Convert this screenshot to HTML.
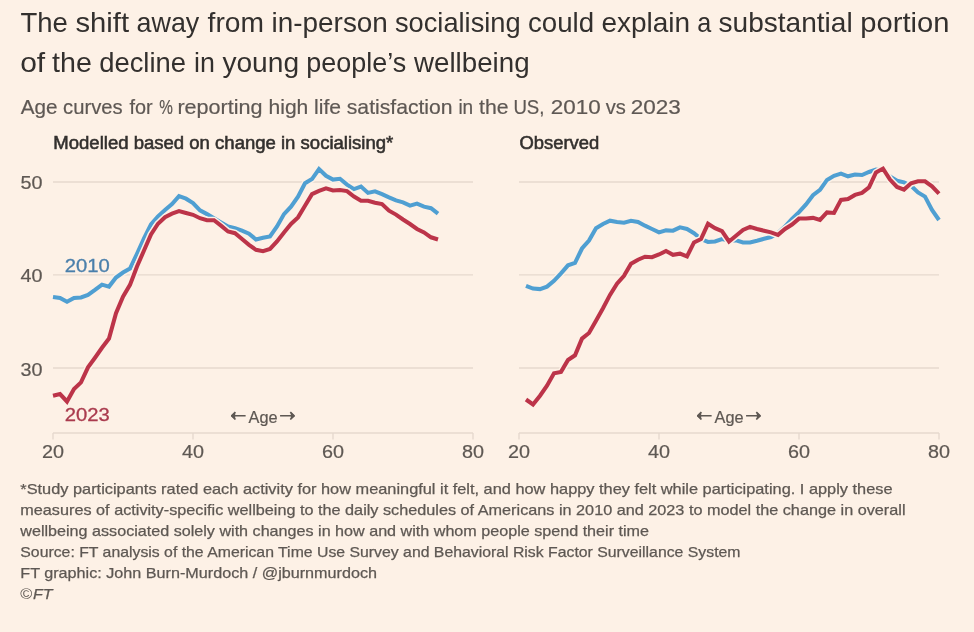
<!DOCTYPE html>
<html lang="en"><head><meta charset="utf-8"><title>FT chart</title>
<style>
html,body{margin:0;padding:0;background:#fdf1e6;}
body{width:974px;height:632px;overflow:hidden;}
svg{display:block;font-family:"Liberation Sans",sans-serif;}
</style></head><body>
<svg width="974" height="632" viewBox="0 0 974 632">
<rect width="974" height="632" fill="#fdf1e6"/>
<text y="32.3" font-size="27.4" fill="#33302e" ><tspan x="20.5" textLength="47.4" lengthAdjust="spacingAndGlyphs">The</tspan> <tspan x="75.5" textLength="53.6" lengthAdjust="spacingAndGlyphs">shift</tspan> <tspan x="136.6" textLength="62.7" lengthAdjust="spacingAndGlyphs">away</tspan> <tspan x="207.6" textLength="56.4" lengthAdjust="spacingAndGlyphs">from</tspan> <tspan x="271.6" textLength="116.3" lengthAdjust="spacingAndGlyphs">in-person</tspan> <tspan x="394.9" textLength="125.8" lengthAdjust="spacingAndGlyphs">socialising</tspan> <tspan x="528.0" textLength="66.1" lengthAdjust="spacingAndGlyphs">could</tspan> <tspan x="601.4" textLength="88.8" lengthAdjust="spacingAndGlyphs">explain</tspan> <tspan x="697.2" textLength="14.0" lengthAdjust="spacingAndGlyphs">a</tspan> <tspan x="718.5" textLength="134.2" lengthAdjust="spacingAndGlyphs">substantial</tspan> <tspan x="860.3" textLength="89.2" lengthAdjust="spacingAndGlyphs">portion</tspan></text>
<text y="71.7" font-size="27.4" fill="#33302e" ><tspan x="20.2" textLength="25.0" lengthAdjust="spacingAndGlyphs">of</tspan> <tspan x="52.0" textLength="39.8" lengthAdjust="spacingAndGlyphs">the</tspan> <tspan x="99.2" textLength="86.8" lengthAdjust="spacingAndGlyphs">decline</tspan> <tspan x="194.0" textLength="20.9" lengthAdjust="spacingAndGlyphs">in</tspan> <tspan x="222.4" textLength="76.7" lengthAdjust="spacingAndGlyphs">young</tspan> <tspan x="306.2" textLength="100.0" lengthAdjust="spacingAndGlyphs">people’s</tspan> <tspan x="414.0" textLength="115.6" lengthAdjust="spacingAndGlyphs">wellbeing</tspan></text>
<text y="113.6" font-size="20.2" fill="#5e5854" stroke="#5e5854" stroke-width="0.2"><tspan x="20.8" textLength="36.8" lengthAdjust="spacingAndGlyphs">Age</tspan> <tspan x="63.1" textLength="59.5" lengthAdjust="spacingAndGlyphs">curves</tspan> <tspan x="129.4" textLength="23.2" lengthAdjust="spacingAndGlyphs">for</tspan> <tspan x="159.3" textLength="13.6" lengthAdjust="spacingAndGlyphs">%</tspan> <tspan x="177.4" textLength="85.2" lengthAdjust="spacingAndGlyphs">reporting</tspan> <tspan x="268.5" textLength="39.8" lengthAdjust="spacingAndGlyphs">high</tspan> <tspan x="314.1" textLength="27.0" lengthAdjust="spacingAndGlyphs">life</tspan> <tspan x="346.8" textLength="105.8" lengthAdjust="spacingAndGlyphs">satisfaction</tspan> <tspan x="458.4" textLength="14.8" lengthAdjust="spacingAndGlyphs">in</tspan> <tspan x="479.1" textLength="29.5" lengthAdjust="spacingAndGlyphs">the</tspan> <tspan x="513.4" textLength="31.1" lengthAdjust="spacingAndGlyphs">US,</tspan> <tspan x="550.8" textLength="49.9" lengthAdjust="spacingAndGlyphs">2010</tspan> <tspan x="605.8" textLength="20.1" lengthAdjust="spacingAndGlyphs">vs</tspan> <tspan x="630.8" textLength="50.1" lengthAdjust="spacingAndGlyphs">2023</tspan></text>
<text x="53.3" y="149" font-size="17.6" fill="#33302e" textLength="340" lengthAdjust="spacingAndGlyphs" stroke="#33302e" stroke-width="0.55">Modelled based on change in socialising*</text>
<text x="519.5" y="149" font-size="17.6" fill="#33302e" textLength="79.8" lengthAdjust="spacingAndGlyphs" stroke="#33302e" stroke-width="0.55">Observed</text>
<line x1="53" x2="473" y1="182.0" y2="182.0" stroke="#e6d9ce" stroke-width="1.4"/>
<line x1="53" x2="473" y1="274.9" y2="274.9" stroke="#e6d9ce" stroke-width="1.4"/>
<line x1="53" x2="473" y1="368.0" y2="368.0" stroke="#e6d9ce" stroke-width="1.4"/>
<line x1="53" x2="473" y1="433" y2="433" stroke="#e6d9ce" stroke-width="1.4"/>
<line x1="53" x2="53" y1="433" y2="439.5" stroke="#e6d9ce" stroke-width="1.4"/>
<text x="53" y="457.9" font-size="17.6" fill="#5e5853" textLength="22" lengthAdjust="spacingAndGlyphs" text-anchor="middle" stroke="#5e5853" stroke-width="0.2">20</text>
<line x1="193" x2="193" y1="433" y2="439.5" stroke="#e6d9ce" stroke-width="1.4"/>
<text x="193" y="457.9" font-size="17.6" fill="#5e5853" textLength="22" lengthAdjust="spacingAndGlyphs" text-anchor="middle" stroke="#5e5853" stroke-width="0.2">40</text>
<line x1="333" x2="333" y1="433" y2="439.5" stroke="#e6d9ce" stroke-width="1.4"/>
<text x="333" y="457.9" font-size="17.6" fill="#5e5853" textLength="22" lengthAdjust="spacingAndGlyphs" text-anchor="middle" stroke="#5e5853" stroke-width="0.2">60</text>
<line x1="473" x2="473" y1="433" y2="439.5" stroke="#e6d9ce" stroke-width="1.4"/>
<text x="473" y="457.9" font-size="17.6" fill="#5e5853" textLength="22" lengthAdjust="spacingAndGlyphs" text-anchor="middle" stroke="#5e5853" stroke-width="0.2">80</text>
<line x1="519" x2="939" y1="182.0" y2="182.0" stroke="#e6d9ce" stroke-width="1.4"/>
<line x1="519" x2="939" y1="274.9" y2="274.9" stroke="#e6d9ce" stroke-width="1.4"/>
<line x1="519" x2="939" y1="368.0" y2="368.0" stroke="#e6d9ce" stroke-width="1.4"/>
<line x1="519" x2="939" y1="433" y2="433" stroke="#e6d9ce" stroke-width="1.4"/>
<line x1="519" x2="519" y1="433" y2="439.5" stroke="#e6d9ce" stroke-width="1.4"/>
<text x="519" y="457.9" font-size="17.6" fill="#5e5853" textLength="22" lengthAdjust="spacingAndGlyphs" text-anchor="middle" stroke="#5e5853" stroke-width="0.2">20</text>
<line x1="659" x2="659" y1="433" y2="439.5" stroke="#e6d9ce" stroke-width="1.4"/>
<text x="659" y="457.9" font-size="17.6" fill="#5e5853" textLength="22" lengthAdjust="spacingAndGlyphs" text-anchor="middle" stroke="#5e5853" stroke-width="0.2">40</text>
<line x1="799" x2="799" y1="433" y2="439.5" stroke="#e6d9ce" stroke-width="1.4"/>
<text x="799" y="457.9" font-size="17.6" fill="#5e5853" textLength="22" lengthAdjust="spacingAndGlyphs" text-anchor="middle" stroke="#5e5853" stroke-width="0.2">60</text>
<line x1="939" x2="939" y1="433" y2="439.5" stroke="#e6d9ce" stroke-width="1.4"/>
<text x="939" y="457.9" font-size="17.6" fill="#5e5853" textLength="22" lengthAdjust="spacingAndGlyphs" text-anchor="middle" stroke="#5e5853" stroke-width="0.2">80</text>
<text x="20.6" y="189.0" font-size="17.6" fill="#5e5853" textLength="22" lengthAdjust="spacingAndGlyphs" stroke="#5e5853" stroke-width="0.2">50</text>
<text x="20.6" y="282.3" font-size="17.6" fill="#5e5853" textLength="22" lengthAdjust="spacingAndGlyphs" stroke="#5e5853" stroke-width="0.2">40</text>
<text x="20.6" y="375.5" font-size="17.6" fill="#5e5853" textLength="22" lengthAdjust="spacingAndGlyphs" stroke="#5e5853" stroke-width="0.2">30</text>
<text x="230.10000000000002" y="422.2" font-size="20" fill="#5e5853" font-family="DejaVu Sans">←</text>
<text x="248.60000000000002" y="423.0" font-size="16" fill="#5e5853" textLength="29" lengthAdjust="spacingAndGlyphs" stroke="#5e5853" stroke-width="0.2">Age</text>
<text x="279.1" y="422.2" font-size="20" fill="#5e5853" font-family="DejaVu Sans">→</text>
<path d="M230.9,415.9 l4.3,-3.6 v7.2z M295.1,415.9 l-4.3,-3.6 v7.2z" fill="#5e5853"/>
<text x="696.0999999999999" y="422.2" font-size="20" fill="#5e5853" font-family="DejaVu Sans">←</text>
<text x="714.5999999999999" y="423.0" font-size="16" fill="#5e5853" textLength="29" lengthAdjust="spacingAndGlyphs" stroke="#5e5853" stroke-width="0.2">Age</text>
<text x="745.0999999999999" y="422.2" font-size="20" fill="#5e5853" font-family="DejaVu Sans">→</text>
<path d="M696.9,415.9 l4.3,-3.6 v7.2z M761.1,415.9 l-4.3,-3.6 v7.2z" fill="#5e5853"/>
<path d="M53.0,296.9 L60.0,297.9 L67.0,301.8 L74.0,297.9 L81.0,297.4 L88.0,294.9 L95.0,289.9 L102.0,284.6 L109.0,286.6 L116.0,277.5 L123.0,272.5 L130.0,268.6 L137.0,253.8 L144.0,238.4 L151.0,224.5 L158.0,216.3 L165.0,209.9 L172.0,204.0 L179.0,196.2 L186.0,198.7 L193.0,203.0 L200.0,210.3 L207.0,214.1 L214.0,218.2 L221.0,222.4 L228.0,226.5 L235.0,228.2 L242.0,230.7 L249.0,233.7 L256.0,239.5 L263.0,237.8 L270.0,236.5 L277.0,226.5 L284.0,214.1 L291.0,206.6 L298.0,196.6 L305.0,183.3 L312.0,179.1 L319.0,169.1 L326.0,175.8 L333.0,179.6 L340.0,178.8 L347.0,184.6 L354.0,189.1 L361.0,186.6 L368.0,192.9 L375.0,191.3 L382.0,194.1 L389.0,197.4 L396.0,200.4 L403.0,202.4 L410.0,205.7 L417.0,203.6 L424.0,206.6 L431.0,208.2 L438.0,213.6" fill="none" stroke="#fdf1e6" stroke-width="7" stroke-linejoin="round"/>
<path d="M53.0,296.9 L60.0,297.9 L67.0,301.8 L74.0,297.9 L81.0,297.4 L88.0,294.9 L95.0,289.9 L102.0,284.6 L109.0,286.6 L116.0,277.5 L123.0,272.5 L130.0,268.6 L137.0,253.8 L144.0,238.4 L151.0,224.5 L158.0,216.3 L165.0,209.9 L172.0,204.0 L179.0,196.2 L186.0,198.7 L193.0,203.0 L200.0,210.3 L207.0,214.1 L214.0,218.2 L221.0,222.4 L228.0,226.5 L235.0,228.2 L242.0,230.7 L249.0,233.7 L256.0,239.5 L263.0,237.8 L270.0,236.5 L277.0,226.5 L284.0,214.1 L291.0,206.6 L298.0,196.6 L305.0,183.3 L312.0,179.1 L319.0,169.1 L326.0,175.8 L333.0,179.6 L340.0,178.8 L347.0,184.6 L354.0,189.1 L361.0,186.6 L368.0,192.9 L375.0,191.3 L382.0,194.1 L389.0,197.4 L396.0,200.4 L403.0,202.4 L410.0,205.7 L417.0,203.6 L424.0,206.6 L431.0,208.2 L438.0,213.6" fill="none" stroke="#4f9fd2" stroke-width="4.05" stroke-linejoin="miter"/>
<path d="M53.0,395.7 L60.0,394.0 L67.0,401.5 L74.0,389.1 L81.0,382.4 L88.0,367.4 L95.0,357.8 L102.0,347.8 L109.0,338.6 L116.0,313.2 L123.0,296.6 L130.0,284.9 L137.0,266.5 L144.0,250.5 L151.0,234.4 L158.0,223.7 L165.0,217.2 L172.0,213.6 L179.0,211.1 L186.0,213.0 L193.0,214.8 L200.0,218.2 L207.0,220.2 L214.0,220.2 L221.0,225.7 L228.0,231.5 L235.0,233.2 L242.0,239.0 L249.0,244.8 L256.0,249.8 L263.0,251.2 L270.0,249.0 L277.0,241.5 L284.0,232.4 L291.0,224.0 L298.0,217.4 L305.0,205.7 L312.0,194.1 L319.0,190.8 L326.0,188.3 L333.0,190.5 L340.0,190.1 L347.0,191.1 L354.0,196.6 L361.0,200.8 L368.0,200.8 L375.0,202.7 L382.0,204.1 L389.0,210.7 L396.0,214.6 L403.0,219.5 L410.0,224.0 L417.0,229.0 L424.0,232.4 L431.0,237.3 L438.0,239.5" fill="none" stroke="#fdf1e6" stroke-width="7" stroke-linejoin="round"/>
<path d="M53.0,395.7 L60.0,394.0 L67.0,401.5 L74.0,389.1 L81.0,382.4 L88.0,367.4 L95.0,357.8 L102.0,347.8 L109.0,338.6 L116.0,313.2 L123.0,296.6 L130.0,284.9 L137.0,266.5 L144.0,250.5 L151.0,234.4 L158.0,223.7 L165.0,217.2 L172.0,213.6 L179.0,211.1 L186.0,213.0 L193.0,214.8 L200.0,218.2 L207.0,220.2 L214.0,220.2 L221.0,225.7 L228.0,231.5 L235.0,233.2 L242.0,239.0 L249.0,244.8 L256.0,249.8 L263.0,251.2 L270.0,249.0 L277.0,241.5 L284.0,232.4 L291.0,224.0 L298.0,217.4 L305.0,205.7 L312.0,194.1 L319.0,190.8 L326.0,188.3 L333.0,190.5 L340.0,190.1 L347.0,191.1 L354.0,196.6 L361.0,200.8 L368.0,200.8 L375.0,202.7 L382.0,204.1 L389.0,210.7 L396.0,214.6 L403.0,219.5 L410.0,224.0 L417.0,229.0 L424.0,232.4 L431.0,237.3 L438.0,239.5" fill="none" stroke="#bc3449" stroke-width="4.05" stroke-linejoin="miter"/>
<path d="M526.0,285.8 L533.0,288.6 L540.0,289.1 L547.0,286.6 L554.0,280.8 L561.0,273.3 L568.0,265.3 L575.0,262.8 L582.0,248.5 L589.0,240.5 L596.0,228.2 L603.0,224.0 L610.0,220.7 L617.0,222.0 L624.0,222.7 L631.0,220.7 L638.0,221.9 L645.0,225.7 L652.0,229.0 L659.0,232.4 L666.0,230.4 L673.0,230.7 L680.0,227.4 L687.0,229.0 L694.0,233.2 L701.0,239.0 L708.0,241.9 L715.0,241.5 L722.0,239.0 L729.0,240.5 L736.0,240.2 L743.0,242.4 L750.0,242.4 L757.0,240.7 L764.0,238.8 L771.0,237.0 L778.0,233.0 L785.0,226.5 L792.0,218.8 L799.0,212.2 L806.0,204.4 L813.0,195.2 L820.0,189.9 L827.0,179.9 L834.0,175.8 L841.0,173.6 L848.0,176.3 L855.0,174.6 L862.0,175.0 L869.0,172.0 L876.0,169.6 L883.0,170.5 L890.0,176.5 L897.0,180.8 L904.0,182.4 L911.0,185.8 L918.0,192.4 L925.0,196.6 L932.0,209.9 L939.0,220.0" fill="none" stroke="#fdf1e6" stroke-width="7" stroke-linejoin="round"/>
<path d="M526.0,285.8 L533.0,288.6 L540.0,289.1 L547.0,286.6 L554.0,280.8 L561.0,273.3 L568.0,265.3 L575.0,262.8 L582.0,248.5 L589.0,240.5 L596.0,228.2 L603.0,224.0 L610.0,220.7 L617.0,222.0 L624.0,222.7 L631.0,220.7 L638.0,221.9 L645.0,225.7 L652.0,229.0 L659.0,232.4 L666.0,230.4 L673.0,230.7 L680.0,227.4 L687.0,229.0 L694.0,233.2 L701.0,239.0 L708.0,241.9 L715.0,241.5 L722.0,239.0 L729.0,240.5 L736.0,240.2 L743.0,242.4 L750.0,242.4 L757.0,240.7 L764.0,238.8 L771.0,237.0 L778.0,233.0 L785.0,226.5 L792.0,218.8 L799.0,212.2 L806.0,204.4 L813.0,195.2 L820.0,189.9 L827.0,179.9 L834.0,175.8 L841.0,173.6 L848.0,176.3 L855.0,174.6 L862.0,175.0 L869.0,172.0 L876.0,169.6 L883.0,170.5 L890.0,176.5 L897.0,180.8 L904.0,182.4 L911.0,185.8 L918.0,192.4 L925.0,196.6 L932.0,209.9 L939.0,220.0" fill="none" stroke="#4f9fd2" stroke-width="4.05" stroke-linejoin="miter"/>
<path d="M526.0,399.5 L533.0,404.5 L540.0,395.7 L547.0,385.7 L554.0,373.3 L561.0,371.9 L568.0,360.0 L575.0,355.3 L582.0,338.6 L589.0,333.0 L596.0,320.7 L603.0,308.2 L610.0,294.9 L617.0,283.6 L624.0,275.8 L631.0,263.8 L638.0,259.7 L645.0,256.7 L652.0,257.2 L659.0,254.5 L666.0,251.0 L673.0,254.8 L680.0,253.7 L687.0,256.5 L694.0,242.4 L701.0,239.0 L708.0,223.8 L715.0,228.2 L722.0,231.2 L729.0,241.5 L736.0,235.7 L743.0,229.9 L750.0,226.9 L757.0,229.0 L764.0,230.7 L771.0,232.4 L778.0,234.9 L785.0,229.0 L792.0,224.5 L799.0,218.6 L806.0,218.4 L813.0,217.9 L820.0,219.9 L827.0,212.4 L834.0,212.9 L841.0,199.9 L848.0,199.1 L855.0,194.9 L862.0,192.9 L869.0,187.4 L876.0,172.5 L883.0,168.6 L890.0,179.6 L897.0,186.9 L904.0,189.6 L911.0,183.3 L918.0,181.3 L925.0,181.3 L932.0,186.3 L939.0,193.6" fill="none" stroke="#fdf1e6" stroke-width="7" stroke-linejoin="round"/>
<path d="M526.0,399.5 L533.0,404.5 L540.0,395.7 L547.0,385.7 L554.0,373.3 L561.0,371.9 L568.0,360.0 L575.0,355.3 L582.0,338.6 L589.0,333.0 L596.0,320.7 L603.0,308.2 L610.0,294.9 L617.0,283.6 L624.0,275.8 L631.0,263.8 L638.0,259.7 L645.0,256.7 L652.0,257.2 L659.0,254.5 L666.0,251.0 L673.0,254.8 L680.0,253.7 L687.0,256.5 L694.0,242.4 L701.0,239.0 L708.0,223.8 L715.0,228.2 L722.0,231.2 L729.0,241.5 L736.0,235.7 L743.0,229.9 L750.0,226.9 L757.0,229.0 L764.0,230.7 L771.0,232.4 L778.0,234.9 L785.0,229.0 L792.0,224.5 L799.0,218.6 L806.0,218.4 L813.0,217.9 L820.0,219.9 L827.0,212.4 L834.0,212.9 L841.0,199.9 L848.0,199.1 L855.0,194.9 L862.0,192.9 L869.0,187.4 L876.0,172.5 L883.0,168.6 L890.0,179.6 L897.0,186.9 L904.0,189.6 L911.0,183.3 L918.0,181.3 L925.0,181.3 L932.0,186.3 L939.0,193.6" fill="none" stroke="#bc3449" stroke-width="4.05" stroke-linejoin="miter"/>
<text x="64.7" y="272.1" font-size="18.2" fill="#fdf1e6" textLength="45" lengthAdjust="spacingAndGlyphs" stroke="#fdf1e6" stroke-width="3.5" stroke-linejoin="round">2010</text>
<text x="64.7" y="272.1" font-size="18.2" fill="#4a7fab" textLength="45" lengthAdjust="spacingAndGlyphs" stroke="#4a7fab" stroke-width="0.3">2010</text>
<text x="64.7" y="421.1" font-size="18.2" fill="#fdf1e6" textLength="45" lengthAdjust="spacingAndGlyphs" stroke="#fdf1e6" stroke-width="3.5" stroke-linejoin="round">2023</text>
<text x="64.7" y="421.1" font-size="18.2" fill="#aa3b4e" textLength="45" lengthAdjust="spacingAndGlyphs" stroke="#aa3b4e" stroke-width="0.3">2023</text>
<text x="20.3" y="494.4" font-size="14.8" fill="#5e5853" textLength="872.2" lengthAdjust="spacingAndGlyphs" stroke="#5e5853" stroke-width="0.25">*Study participants rated each activity for how meaningful it felt, and how happy they felt while participating. I apply these</text>
<text x="20.3" y="515.27" font-size="14.8" fill="#5e5853" textLength="885.2" lengthAdjust="spacingAndGlyphs" stroke="#5e5853" stroke-width="0.25">measures of activity-specific wellbeing to the daily schedules of Americans in 2010 and 2023 to model the change in overall</text>
<text x="20.3" y="536.14" font-size="14.8" fill="#5e5853" textLength="628.7" lengthAdjust="spacingAndGlyphs" stroke="#5e5853" stroke-width="0.25">wellbeing associated solely with changes in how and with whom people spend their time</text>
<text x="20.3" y="557.01" font-size="14.8" fill="#5e5853" textLength="720.2" lengthAdjust="spacingAndGlyphs" stroke="#5e5853" stroke-width="0.25">Source: FT analysis of the American Time Use Survey and Behavioral Risk Factor Surveillance System</text>
<text x="20.3" y="577.88" font-size="14.8" fill="#5e5853" textLength="356.7" lengthAdjust="spacingAndGlyphs" stroke="#5e5853" stroke-width="0.25">FT graphic: John Burn-Murdoch / @jburnmurdoch</text>
<text x="20.3" y="598.9" font-size="14.8" fill="#5e5853" textLength="12" lengthAdjust="spacingAndGlyphs" >©</text>
<text x="33" y="598.9" font-size="14.8" fill="#5e5853" textLength="19.5" lengthAdjust="spacingAndGlyphs" font-style="italic" stroke="#5e5853" stroke-width="0.25">FT</text>
</svg></body></html>
